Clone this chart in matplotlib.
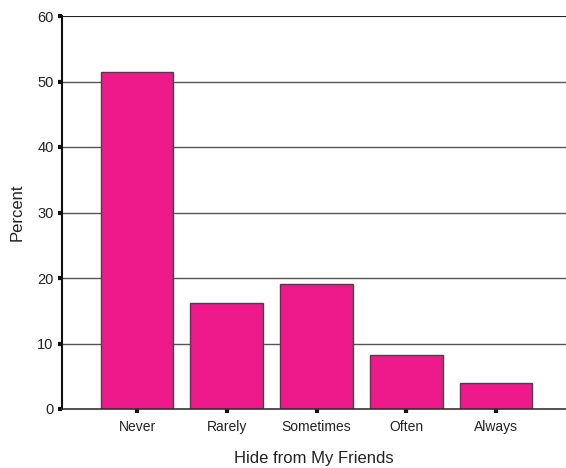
import matplotlib
matplotlib.use("Agg")
import matplotlib.pyplot as plt

categories = ["Never", "Rarely", "Sometimes", "Often", "Always"]
percent = [51.5, 16.2, 19.1, 8.2, 3.9]
y_ticks = [0, 10, 20, 30, 40, 50, 60]

plt.rcParams['font.family'] = ['Liberation Sans', 'DejaVu Sans']
text_color = "#222222"

fig = plt.figure(figsize=(5.66, 4.68), dpi=100)
ax = fig.add_axes([62/566, 59/468, 1 - 62/566, 393/468])

x = list(range(len(categories)))
for yv in y_ticks[1:-1]:
    ax.axhline(yv, color="#555555", lw=1.0, zorder=1)
ax.axhline(60, color="#222222", lw=1.5, zorder=1)

ax.bar(x, percent, width=0.81, color="#EE1A8C", edgecolor="#444444",
       linewidth=1.0, zorder=2)

ax.set_xlim(-0.836, 4.78)
ax.set_ylim(0, 60)
ax.set_yticks(y_ticks)
ax.set_xticks(x)
ax.set_xticklabels(categories, fontsize=10)
ax.tick_params(axis="y", labelsize=10.5, length=3, width=3, direction="out",
               color="#111111", labelcolor=text_color, pad=3)
ax.tick_params(axis="x", length=3, width=3, direction="out",
               color="#111111", labelcolor=text_color, pad=5)

for s in ["top", "right"]:
    ax.spines[s].set_visible(False)
ax.spines["left"].set_linewidth(1.5)
ax.spines["left"].set_color("#111111")
ax.spines["bottom"].set_linewidth(1.2)
ax.spines["bottom"].set_color("#333333")

ax.set_ylabel("Percent", fontsize=12, labelpad=9, color=text_color)
ax.set_xlabel("Hide from My Friends", fontsize=12, labelpad=12, color=text_color)

fig.savefig("out.png", dpi=100)
